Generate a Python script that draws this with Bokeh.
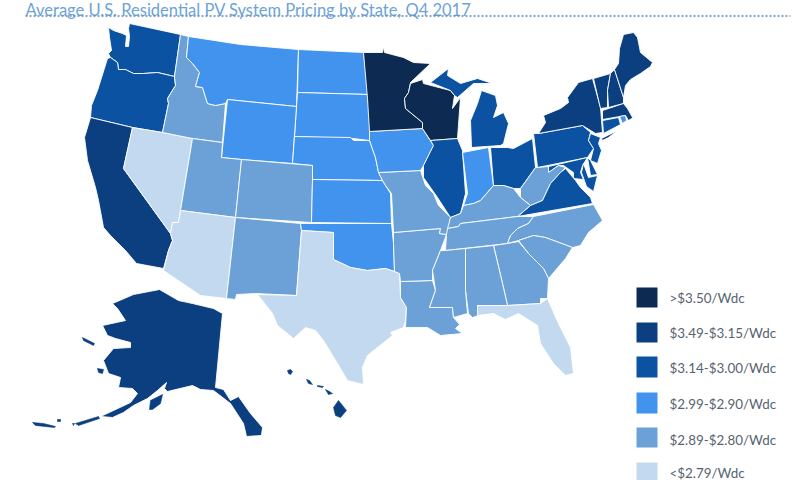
from bokeh.plotting import figure
from bokeh.models import ColumnDataSource, Range1d
from bokeh.core.properties import value
from bokeh.embed import file_html
from bokeh.resources import INLINE

TITLE = "Average U.S. Residential PV System Pricing by State, Q4 2017"
LEGEND_LABELS = [">$3.50/Wdc", "$3.49-$3.15/Wdc", "$3.14-$3.00/Wdc", "$2.99-$2.90/Wdc", "$2.89-$2.80/Wdc", "<$2.79/Wdc"]
CLASS_COLORS = ["#0d2a52", "#0b3f80", "#0b52a3", "#4293ee", "#6ba1d6", "#c3d9ef"]

# Pricing class (index into LEGEND_LABELS) of each state
STATE_CLASS = {
    "WA": 2, "OR": 2, "CA": 1, "NV": 5, "ID": 4, "MT": 3, "ND": 3, "SD": 3, "WY": 3, "NE": 3, "UT": 4, "CO": 4, "KS": 3,
    "AZ": 5, "NM": 4, "OK": 3, "TX": 5, "LA": 4, "AR": 4, "MO": 4, "IA": 3, "MN": 0, "WI": 0, "IL": 2, "IN": 3, "OH": 2,
    "MI": 2, "PA": 2, "NY": 1, "VT": 1, "NH": 1, "ME": 1, "MA": 1, "CT": 2, "RI": 3, "NJ": 2, "DE": 2, "MD": 2, "WV": 4,
    "VA": 2, "KY": 4, "TN": 4, "NC": 4, "SC": 4, "GA": 4, "AL": 4, "MS": 4, "FL": 5, "AK": 1, "HI": 1,
}

# State outlines (map units)
STATE_SHAPES = {
    "WA": [[(129,23),(180,34),(174,76),(157,72),(143,73),(133,73),(125,69),(118,69),(117,62),(110,57),(108,53),(111,50),(109,37),(108,27),(113,30),(122,33),(126,35),(125,46),(128,46),(129,36),(128,28)]],
    "OR": [[(110,57),(117,62),(118,69),(125,69),(133,73),(143,73),(157,72),(174,76),(175,85),(167,98),(168,103),(162,132),(132,127),(90,117),(91,105),(97,90),(107,58)]],
    "CA": [[(90,117),(132,127),(123,168),(170,233),(172,240),(168,250),(163,268),(136,263),(125,250),(110,235),(103,227),(98,200),(95,187),(87,160),(84,137)]],
    "NV": [[(132,127),(162,132),(192,138),(180,210),(178,222),(172,222),(170,233),(123,168)]],
    "ID": [[(180,34),(188,36),(186,57),(192,63),(199,72),(195,86),(202,87),(207,103),(215,105),(225,103),(222,142),(192,138),(162,132),(168,103),(167,98),(175,85),(174,76)]],
    "MT": [[(188,36),(240,44),(298,49),(296,106),(227,99),(225,103),(215,105),(207,103),(202,87),(195,86),(199,72),(192,63),(186,57)]],
    "ND": [[(298,49),(363,52),(368,94),(297,92)]],
    "SD": [[(297,92),(368,94),(367,100),(370,110),(369,140),(353,138),(294,136),(296,106)]],
    "WY": [[(227,99),(296,106),(292,163),(241,159),(221,157)]],
    "NE": [[(294,136),(350,137),(353,140),(369,140),(375,157),(378,172),(382,180),(312,179),(312,165),(292,163)]],
    "UT": [[(192,138),(222,142),(221,157),(241,159),(235,217),(180,210)]],
    "CO": [[(241,159),(312,165),(312,179),(311,222),(235,217)]],
    "KS": [[(312,179),(382,180),(385,185),(390,193),(391,223),(311,222)]],
    "AZ": [[(180,210),(235,217),(226,298),(200,295),(163,270),(168,250),(172,240),(170,233),(172,222),(178,222)]],
    "NM": [[(235,217),(300,223),(301,230),(296,295),(255,293),(236,294),(235,299),(226,298)]],
    "OK": [[(300,223),(391,223),(393,243),(394,271),(385,268),(367,270),(350,267),(333,259),(333,232),(301,230)]],
    "TX": [[(301,230),(333,232),(333,259),(350,267),(367,270),(385,268),(394,271),(399,273),(400,297),(406,307),(405,320),(403,327),(390,332),(392,335),(367,355),(362,367),(363,384),(347,380),(337,363),(323,340),(315,330),(305,327),(293,338),(277,325),(272,313),(257,294),(296,295)]],
    "LA": [[(400,281),(432,280),(435,290),(429,307),(452,307),(453,317),(459,324),(455,328),(462,333),(440,335),(432,330),(427,327),(405,327),(406,307),(400,297)]],
    "AR": [[(393,232),(440,228),(439,233),(446,234),(440,250),(432,270),(432,280),(400,281),(399,273),(394,271),(393,243)]],
    "MO": [[(378,172),(420,170),(425,185),(433,193),(438,205),(450,217),(448,228),(446,234),(439,233),(440,228),(393,232),(391,193),(385,185),(382,180)]],
    "IA": [[(369,131),(422,128),(433,145),(423,165),(420,170),(378,172),(375,157),(369,140)]],
    "MN": [[(363,52),(382,52),(383,46),(384,52),(403,57),(413,62),(430,63),(410,82),(408,92),(404,98),(405,108),(422,122),(422,128),(369,131),(367,98)]],
    "WI": [[(410,83),(422,79),(423,83),(450,90),(454,95),(452,108),(460,97),(457,138),(430,140),(422,128),(422,122),(405,108),(404,98),(408,92)]],
    "IL": [[(430,140),(457,138),(462,150),(465,193),(460,213),(450,217),(437,197),(423,177),(423,165),(433,145)]],
    "IN": [[(462,152),(488,147),(493,185),(480,200),(473,203),(463,205),(467,193)]],
    "OH": [[(490,147),(507,147),(513,148),(532,138),(535,167),(520,188),(513,188),(503,185),(493,185)]],
    "MI": [[(471,147),(470,120),(477,103),(481,90),(495,95),(497,105),(493,117),(503,112),(508,123),(503,143),(500,145)],
           [(430,82),(448,68),(447,75),(460,83),(477,78),(492,83),(473,83),(457,97),(454,95),(450,90)]],
    "PA": [[(533,133),(538,133),(582,125),(590,132),(588,140),(593,148),(587,157),(537,167)]],
    "NY": [[(538,133),(545,122),(543,115),(560,108),(568,102),(567,97),(578,82),(592,78),(600,107),(602,132),(595,133),(582,125)],
           [(601,138),(617,130),(608,137),(602,140)]],
    "VT": [[(593,78),(610,73),(607,90),(607,107),(600,108)]],
    "NH": [[(610,73),(614,69),(623,97),(623,103),(608,107),(607,90)]],
    "ME": [[(614,69),(618,63),(619,48),(623,34),(633,32),(637,37),(640,52),(646,57),(652,62),(650,66),(640,73),(630,79),(625,85),(623,97)]],
    "MA": [[(602,110),(623,103),(627,108),(632,117),(636,115),(628,120),(625,115),(602,119)]],
    "CT": [[(602,120),(618,117),(620,124),(603,133)]],
    "RI": [[(619,116),(625,115),(626,120),(622,123)]],
    "NJ": [[(590,133),(600,137),(598,143),(601,150),(597,163),(590,160),(593,148),(588,140)]],
    "DE": [[(587,157),(590,160),(597,174),(590,175)]],
    "MD": [[(548,166),(587,157),(582,165),(580,172),(583,179),(573,178),(573,172),(563,165),(558,165),(548,172)],
           [(583,163),(588,177),(597,175),(593,191),(586,186),(581,172)]],
    "WV": [[(535,167),(537,167),(548,166),(548,172),(558,165),(565,167),(560,172),(550,183),(542,200),(530,205),(520,197),(520,188)]],
    "VA": [[(517,216),(592,203),(590,197),(580,187),(575,180),(565,168),(560,172),(550,183),(542,200),(530,205)]],
    "KY": [[(450,217),(460,213),(463,205),(473,203),(480,200),(493,185),(503,185),(513,188),(520,197),(530,205),(517,216),(460,223),(458,226),(447,228)]],
    "TN": [[(447,228),(458,226),(460,223),(517,216),(533,216),(528,223),(517,228),(510,235),(507,243),(445,250),(446,234)]],
    "NC": [[(533,216),(593,204),(602,220),(588,232),(580,245),(572,247),(545,237),(533,235),(518,240),(507,243),(510,235),(517,228),(528,223)]],
    "SC": [[(518,240),(533,235),(545,237),(572,247),(565,258),(548,278),(543,268),(528,253)]],
    "GA": [[(493,245),(507,243),(518,241),(528,253),(543,268),(548,278),(547,298),(540,298),(540,303),(507,305),(502,283)]],
    "AL": [[(465,248),(493,245),(502,283),(507,305),(477,305),(478,315),(472,317),(468,313),(465,290)]],
    "MS": [[(445,250),(465,248),(465,290),(467,313),(453,317),(452,307),(429,307),(435,290),(432,270),(440,250)]],
    "FL": [[(477,305),(507,305),(540,303),(547,298),(558,323),(570,347),(573,373),(565,375),(553,363),(540,343),(537,325),(518,313),(505,319),(493,313),(477,315)]],
    "AK": [[(159,289),(178,300),(192,303),(213,308),(222,313),(215,387),(223,389),(230,400),(238,396),(250,413),(262,427),(261,435),(246,436),(243,423),(230,403),(213,390),(200,389),(192,385),(167,391),(164,388),(166,382),(157,390),(147,398),(133,405),(123,412),(112,417),(100,416),(113,410),(130,402),(137,393),(132,388),(118,387),(120,377),(108,373),(103,360),(113,348),(130,347),(130,342),(115,338),(107,335),(102,325),(125,320),(117,308),(112,303),(133,294)]],
}

# Small islands, drawn without the white border so that they are not eaten by it
ISLAND_SHAPES = {
    "AK": [[(82,337),(94,343),(93,345),(83,340)],
           [(97,368),(103,369),(102,373),(98,372)],
           [(162,394),(160,403),(152,409),(149,409),(150,400)],
           [(75,423),(98,416),(99,418),(78,425)],
           [(32,422),(43,423),(55,426),(54,427),(35,425)],
           [(57,419),(60,419),(60,421),(57,421)],
           [(72,423),(74,423),(73,425)]],
    "HI": [[(287,370),(290,369),(292,371),(290,374),(288,373)],
           [(306,379),(309,380),(312,384),(308,383)],
           [(317,385),(323,386),(322,387),(317,386)],
           [(325,389),(329,391),(332,393),(328,394)],
           [(333,407),(338,400),(346,410),(340,417),(335,415)]],
}


def to_columns(shapes):
    xs, ys, colors = [], [], []
    for state, parts in shapes.items():
        for part in parts:
            xs.append([pt[0] for pt in part])
            ys.append([pt[1] for pt in part])
            colors.append(CLASS_COLORS[STATE_CLASS[state]])
    return ColumnDataSource(dict(xs=xs, ys=ys, colors=colors))


p = figure(width=800, height=480, output_backend="svg", toolbar_location=None,
           x_range=Range1d(0, 800), y_range=Range1d(480, 0), min_border=0,
           outline_line_color=None)
p.axis.visible = False
p.grid.visible = False

p.patches(xs="xs", ys="ys", fill_color="colors", line_color="#ffffff", line_width=0.9, line_join="round",
          source=to_columns(STATE_SHAPES))
p.patches(xs="xs", ys="ys", fill_color="colors", line_color="colors", line_width=0.6, line_join="round",
          source=to_columns(ISLAND_SHAPES))

# Title and dotted rule
p.text(x=[25], y=[9], text=[TITLE], text_font=value("Lato"), text_font_size="16.5px", text_color="#6ea3d8",
       text_baseline="alphabetic", text_align="left")
p.line(x=[25, 790], y=[15.5, 15.5], line_color="#5f8db8", line_width=1.4, line_dash="2 2")

# Legend
swatch_top = [287, 322, 356, 392, 427, 462]
swatch_bot = [307, 342, 377, 413, 447, 480]
label_y = [297, 332, 367, 403, 439, 472]
p.quad(left=[636] * 6, right=[657] * 6, top=swatch_top, bottom=swatch_bot, fill_color=CLASS_COLORS, line_color=None)
p.text(x=[669] * 6, y=label_y, text=LEGEND_LABELS, text_font=value("Lato"), text_font_size="13.4px",
       text_color="#56636f", text_baseline="middle", text_align="left")

open("out.html", "w").write(file_html(p, INLINE))
